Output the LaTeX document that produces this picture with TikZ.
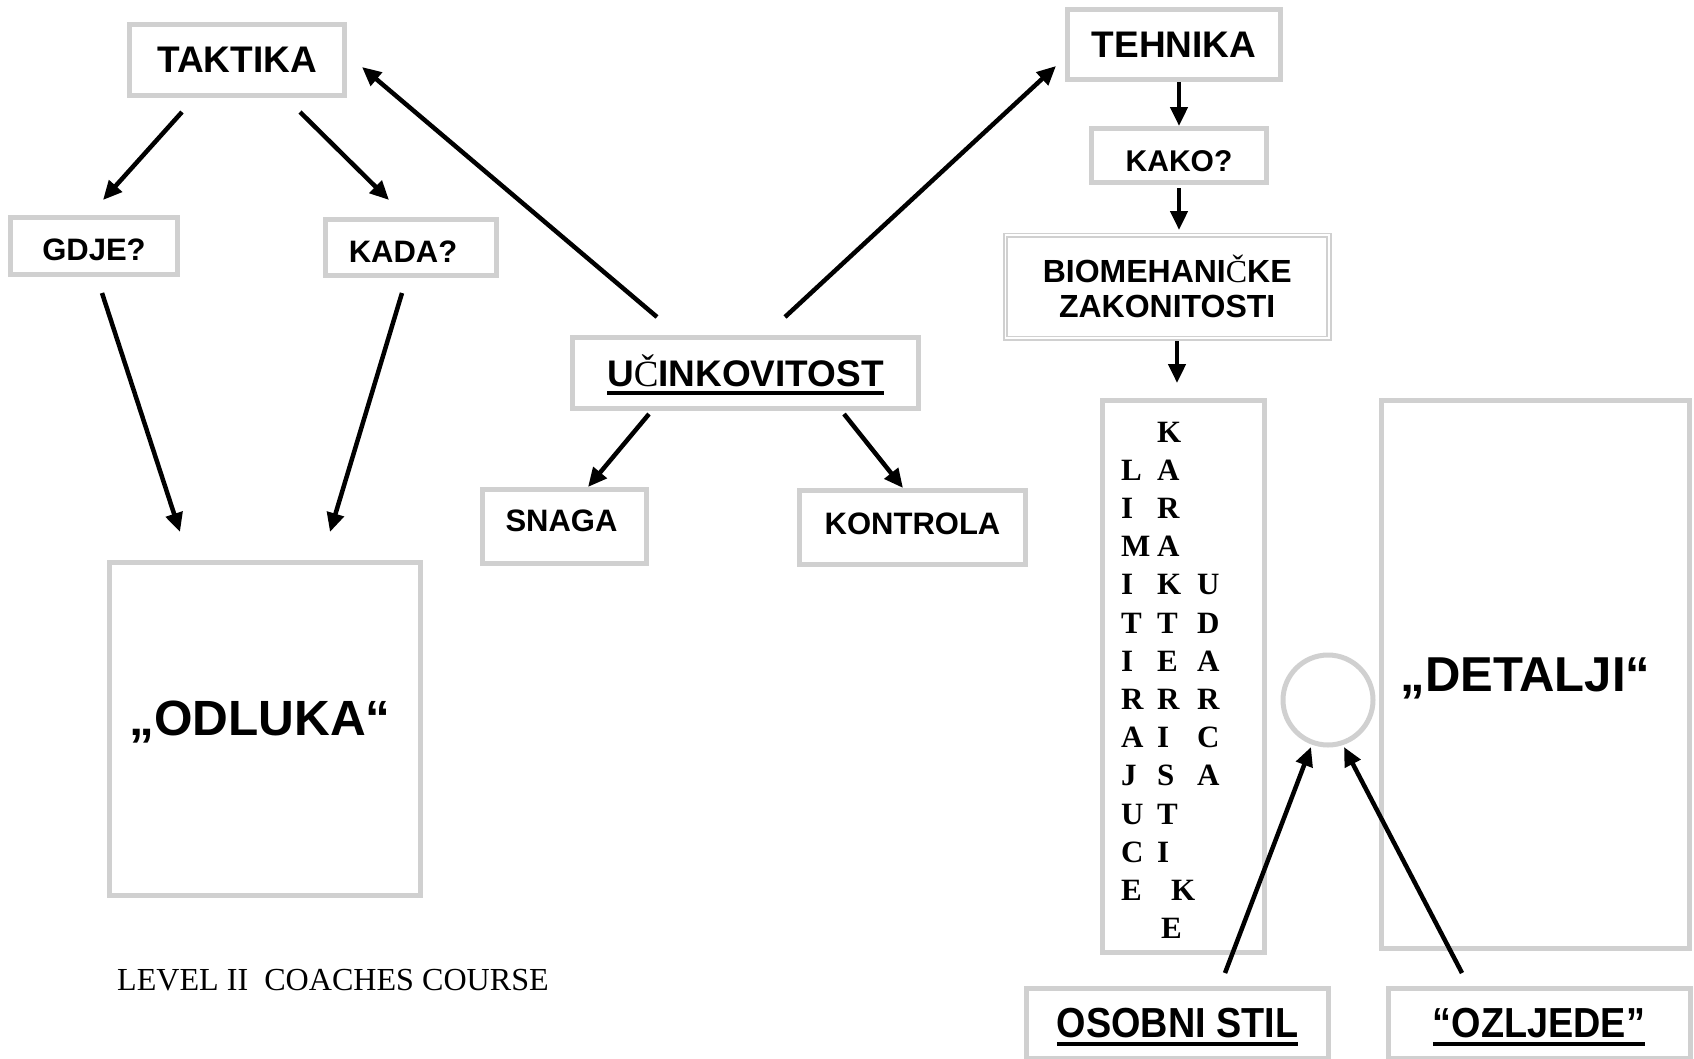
\documentclass[tikz,border=0pt]{standalone}
\usepackage{fontspec}
\setmainfont{Liberation Serif}
\setsansfont{Liberation Sans}
\newfontfamily\narrowsans{Liberation Sans}[FakeStretch=0.9]
\usetikzlibrary{arrows.meta}

\definecolor{boxgray}{RGB}{208,208,208}
\newcommand{\boxfont}[2]{\sffamily\bfseries\fontsize{#1}{#2}\selectfont}
\newcommand{\ulword}[1]{\setbox0=\hbox{#1}\rlap{\rule[-8pt]{\wd0}{4pt}}\box0}
\newcommand{\sercaron}{{\rmfamily\mdseries Č}}

\tikzset{
  box/.style={draw=boxgray, line width=5pt, fill=white, inner sep=0pt, text depth=0pt},
  arr/.style={line width=4.5pt, -{Triangle[length=19pt,width=17pt]}},
  vlet/.style={anchor=base west, inner sep=0pt, font=\rmfamily\bfseries\fontsize{31}{31}\selectfont},
}

\begin{document}
\begin{tikzpicture}[x=1pt,y=-1pt]
                \useasboundingbox (0,0) rectangle (1694,1058);
                \clip (0,0) rectangle (1694,1058);

                % taktika side
                \node[box, minimum width=215pt, minimum height=71pt, font=\boxfont{37}{40}] (taktika) at (237,60) {TAKTIKA};
                \node[box, minimum width=167pt, minimum height=57pt, font=\boxfont{31}{34}, text height=28.6pt] (gdje) at (94,246) {GDJE?};
                \node[box, minimum width=171pt, minimum height=56pt, font=\boxfont{31}{34}, text height=30.8pt] (kada) at (411,247.5) {\hspace*{-16pt}KADA?};
                \node[box, minimum width=311pt, minimum height=333pt, font=\boxfont{49.5}{52}, text depth=22pt] (odluka) at (265,729) {\hspace*{-10pt}„ODLUKA“};

                % ucinkovitost
                \node[box, minimum width=346pt, minimum height=71pt, font=\boxfont{37}{40}, text depth=4.4pt] (ucink) at (745.5,373) {\ulword{U\sercaron INKOVITOST}};
                \node[box, minimum width=164pt, minimum height=74pt, font=\boxfont{31}{34}, text depth=10.8pt] (snaga) at (564.5,526.5) {\hspace*{-6pt}SNAGA};
                \node[box, minimum width=226pt, minimum height=74pt, font=\boxfont{31}{34}, text depth=8.6pt] (kontrola) at (912.5,527.5) {KONTROLA};

                % tehnika side
                \node[box, minimum width=213pt, minimum height=70pt, font=\boxfont{37}{40}] (tehnika) at (1174,44.5) {TEHNIKA};
                \node[box, minimum width=175pt, minimum height=54pt, font=\boxfont{30}{33}, text height=32.3pt] (kako) at (1179,155.5) {KAKO?};
                \node[box, line width=1.8pt, double=white, double distance=1.6pt, minimum width=323.5pt, minimum height=103pt,
                      align=center, font=\boxfont{32}{35}] (biomeh) at (1167.2,286.6) {BIOMEHANI\sercaron KE\\ZAKONITOSTI};
                \node[box, minimum width=162pt, minimum height=552pt] (limit) at (1183.5,676.5) {};
                \node[box, minimum width=308pt, minimum height=548pt, font=\boxfont{49}{52}] (detalji) at (1535.5,674.5) {\hspace*{-20pt}„DETALJI“};
                \node[box, circle, minimum size=90pt] (krug) at (1328,700) {};

                \foreach \c [count=\i from 1] in {L,I,M,I,T,I,R,A,J,U,C,E}
                    \node[vlet] (lim\i) at (1121,{442+38.2*\i}) {\c};
                \foreach \c/\dx [count=\i from 0] in {K/0,A/0,R/0,A/0,K/0,T/0,E/0,R/0,I/0,S/0,T/0,I/0,K/14,E/4}
                    \node[vlet] (kar\i) at ({1157+\dx},{442+38.2*\i}) {\c};
                \foreach \c [count=\i from 4] in {U,D,A,R,C,A}
                    \node[vlet] (uda\i) at (1197,{442+38.2*\i}) {\c};

                \node[box, minimum width=302pt, minimum height=70pt, font=\narrowsans\bfseries\fontsize{42}{46}\selectfont] (osobni) at (1177.5,1023) {\ulword{OSOBNI STIL}};
                \node[box, minimum width=302pt, minimum height=70pt, font=\narrowsans\bfseries\fontsize{42}{46}\selectfont] (ozljede) at (1539,1023) {\ulword{“OZLJEDE”}};

                \node[anchor=base west, inner sep=0pt, font=\rmfamily\fontsize{32.1}{36}\selectfont] (level) at (117,990) {LEVEL II\ \ COACHES COURSE};

                % arrow ends
                \coordinate (t1) at (182,112);   \coordinate (g1) at (103,200);
                \coordinate (t2) at (300,112);   \coordinate (k1) at (389,200);
                \coordinate (g2) at (102,293);   \coordinate (o1) at (180,532);
                \coordinate (k2) at (402,293);   \coordinate (o2) at (330,532);
                \coordinate (u1) at (657,317);   \coordinate (t3) at (362,67);
                \coordinate (u2) at (785,317);   \coordinate (h1) at (1056,66);
                \coordinate (u3) at (649,414);   \coordinate (s1) at (588,487);
                \coordinate (u4) at (844,414);   \coordinate (c1) at (903,488);
                \coordinate (h2) at (1179,82);   \coordinate (a1) at (1179,126);
                \coordinate (a2) at (1179,188);  \coordinate (b1) at (1179,230);
                \coordinate (b2) at (1177,341);  \coordinate (l1) at (1177,383);
                \coordinate (p1) at (1225,973);  \coordinate (r1) at (1311,747);
                \coordinate (z1) at (1462,973);  \coordinate (r2) at (1344,747);

                \draw[arr] (t1) -- (g1);
                \draw[arr] (t2) -- (k1);
                \draw[arr] (g2) -- (o1);
                \draw[arr] (k2) -- (o2);
                \draw[arr] (u1) -- (t3);
                \draw[arr] (u2) -- (h1);
                \draw[arr] (u3) -- (s1);
                \draw[arr] (u4) -- (c1);
                \draw[arr] (h2) -- (a1);
                \draw[arr] (a2) -- (b1);
                \draw[arr] (b2) -- (l1);
                \draw[arr] (p1) -- (r1);
                \draw[arr] (z1) -- (r2);
            \end{tikzpicture}
\end{document}
